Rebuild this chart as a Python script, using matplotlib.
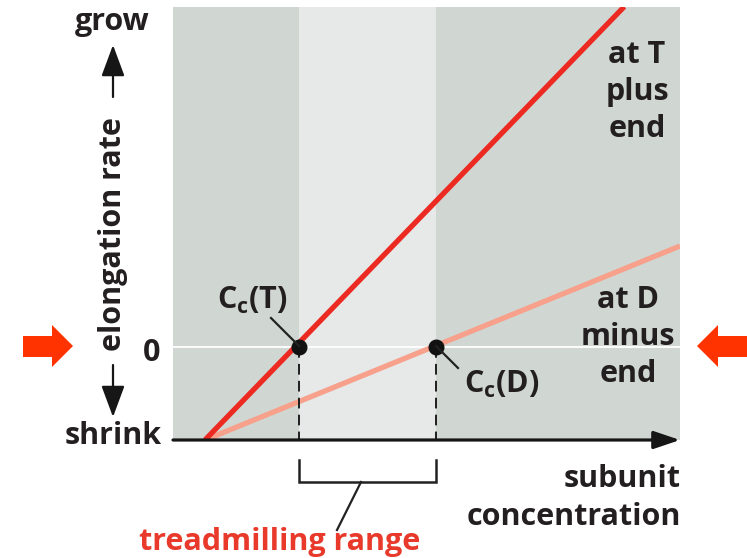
import matplotlib
matplotlib.use("Agg")
import matplotlib.pyplot as plt
from matplotlib.patches import Polygon

# ---- data (conceptual units) ----
x_limits = [0.0, 10.0]
y_limits = [-1.0, 3.656]
plus_end_conc = [0.63, 8.9]        # at T, plus end
plus_end_rate = [-1.0, 3.66]
minus_end_conc = [0.63, 10.0]      # at D, minus end
minus_end_rate = [-1.0, 1.086]
cc_T = 2.485
cc_D = 5.19
bracket_y = [-1.215, -1.452]

FONT = "Open Sans"
plt.rcParams['font.family'] = [FONT, 'DejaVu Sans']
plt.rcParams['mathtext.fontset'] = 'custom'
plt.rcParams['mathtext.rm'] = FONT + ':bold'
plt.rcParams['mathtext.it'] = FONT + ':bold'
plt.rcParams['mathtext.bf'] = FONT + ':bold'

W, H = 747, 558
fig = plt.figure(figsize=(W / 100, H / 100), dpi=100)

def fx(px):
    return px / W

def fy(py):
    return 1 - py / H

ax = fig.add_axes([fx(173), fy(440), (680 - 173) / W, (440 - 7) / H])
ax.set_xlim(*x_limits)
ax.set_ylim(*y_limits)
ax.set_facecolor('#d0d7d3')
for s in ax.spines.values():
    s.set_visible(False)
ax.set_xticks([])
ax.set_yticks([])

# treadmilling band
ax.axvspan(cc_T, cc_D, color='#e7e8e8', zorder=0.5, lw=0)
# zero line
ax.axhline(0, color='white', lw=1.3, zorder=1)

# lines
ax.plot(minus_end_conc, minus_end_rate, color='#f7a08b', lw=3.8, solid_capstyle='butt', zorder=2)
ax.plot(plus_end_conc, plus_end_rate, color='#ec2a22', lw=3.8, solid_capstyle='butt', zorder=3)

# dashed verticals and points
for c in (cc_T, cc_D):
    ax.plot([c, c], [0, y_limits[0]], color='#1e1e1e', lw=1.4, ls=(0, (5.5, 3.2)), zorder=2.5)
    ax.plot([c], [0], 'o', color='#111111', ms=10.5, zorder=5)

# x axis arrow
ax.annotate('', xy=(1.0, 0.0), xytext=(0.0, 0.0), xycoords='axes fraction',
            textcoords='axes fraction',
            arrowprops=dict(arrowstyle='-|>,head_length=0.8,head_width=0.27', lw=2.3,
                            color='#161616', shrinkA=0, shrinkB=0, mutation_scale=20),
            annotation_clip=False, zorder=6)

# bracket
ax.plot([cc_T, cc_T, cc_D, cc_D], [bracket_y[0], bracket_y[1], bracket_y[1], bracket_y[0]],
        color='#222222', lw=1.8, clip_on=False, solid_joinstyle='miter')

# leader lines (figure pixels)
def fline(x0, y0, x1, y1, lw=1.6):
    fig.add_artist(plt.Line2D([fx(x0), fx(x1)], [fy(y0), fy(y1)], color='#222222', lw=lw))

fline(361, 482, 337, 530)
fline(271, 318, 299, 346)
fline(436, 346, 458, 368)

# texts
FS = 22
txt = dict(fontweight='bold', color='#231f20', fontsize=FS)
fig.text(fx(112), fy(22), 'grow', ha='center', va='center', **txt)
fig.text(fx(113), fy(436), 'shrink', ha='center', va='center', **txt)
fig.text(fx(152), fy(353), '0', ha='center', va='center', **txt)
fig.text(fx(113), fy(234), 'elongation rate', ha='center', va='center', rotation=90, **txt)
fig.text(fx(252), fy(300), 'C$_\\mathrm{c}$(T)', ha='center', va='center', **txt)
fig.text(fx(502), fy(384), 'C$_\\mathrm{c}$(D)', ha='center', va='center', **txt)
fig.text(fx(637), fy(92), 'at T\nplus\nend', ha='center', va='center', linespacing=1.3, **txt)
fig.text(fx(628), fy(337), 'at D\nminus\nend', ha='center', va='center', linespacing=1.3, **txt)
fig.text(fx(681), fy(498), 'subunit\nconcentration', ha='right', va='center', linespacing=1.38, **txt)
fig.text(fx(280), fy(542), 'treadmilling range', ha='center', va='center',
         fontweight='bold', color='#e8392b', fontsize=FS)

# grow / shrink arrows
def farrow(x0, y0, x1, y1):
    fig.add_artist(matplotlib.patches.FancyArrowPatch(
        (fx(x0), fy(y0)), (fx(x1), fy(y1)), transform=fig.transFigure,
        arrowstyle='-|>,head_length=0.97,head_width=0.36', mutation_scale=20,
        lw=1.6, color='#161616', shrinkA=0, shrinkB=0))

farrow(113, 97, 113, 45)
farrow(113, 365, 113, 417)

# red arrows
def fpoly(pts):
    fig.add_artist(Polygon([(fx(x), fy(y)) for x, y in pts], closed=True,
                           transform=fig.transFigure, color='#ff3300', lw=0))

fpoly([(23, 336), (52, 336), (52, 325), (73, 346), (52, 367), (52, 357), (23, 357)])
fpoly([(747, 336), (718, 336), (718, 325), (697, 346), (718, 367), (718, 357), (747, 357)])

fig.savefig('out.png', dpi=100)
